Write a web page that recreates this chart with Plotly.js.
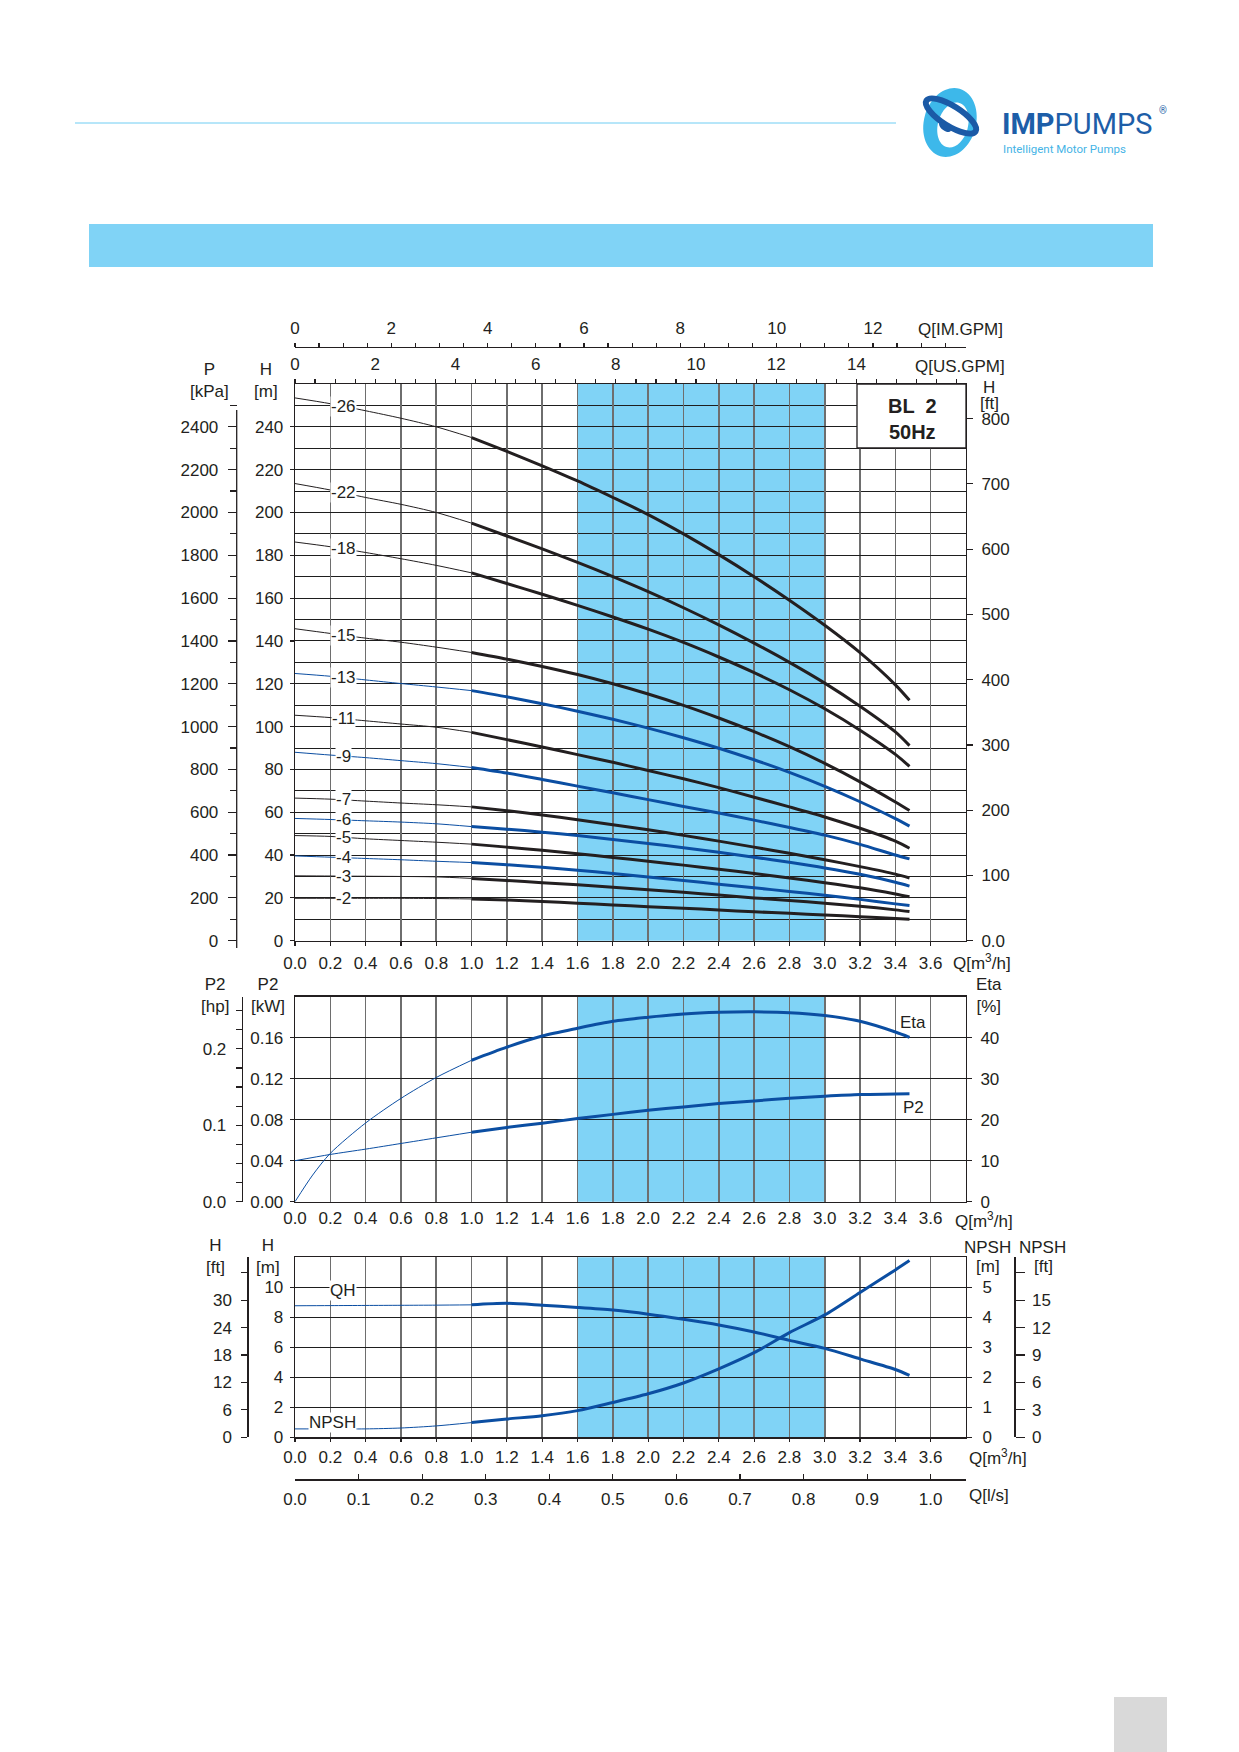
<!DOCTYPE html>
<html>
<head>
<meta charset="utf-8">
<script src="https://cdn.plot.ly/plotly-3.0.1.min.js"></script>
<style>
  html, body { margin: 0; padding: 0; background: #fff; }
  #chart { width: 1239px; height: 1752px; }
</style>
</head>
<body>
<div id="chart"></div>
<script>
// ---- data (Q in m3/h) ----
const qThin  = [0, 0.2, 0.4, 0.6, 0.8, 1.0];
const qThick = [1.0, 1.2, 1.4, 1.6, 1.8, 2.0, 2.2, 2.4, 2.6, 2.8, 3.0, 3.2, 3.4, 3.48];

// stages of the pump, top curve first
const stageNames = ['-26', '-22', '-18', '-15', '-13', '-11', '-9', '-7', '-6', '-5', '-4', '-3', '-2'];
const stageBlue  = [false, false, false, false, true, false, true, false, true, false, true, false, false];

// head H [m] on qThin
const headThin = [
  [253.5, 250.8, 247.5, 244.0, 240.0, 235.0],
  [213.5, 210.5, 207.0, 203.8, 200.0, 195.0],
  [186.2, 184.0, 181.3, 178.4, 175.3, 171.8],
  [145.7, 143.5, 141.3, 139.4, 137.1, 134.6],
  [124.8, 123.5, 121.8, 120.1, 118.5, 116.8],
  [105.3, 104.2, 102.7, 101.2, 99.7, 97.3],
  [88.0, 86.7, 85.5, 84.1, 82.7, 80.9],
  [66.6, 66.1, 65.2, 64.3, 63.5, 62.5],
  [57.1, 56.6, 56.0, 55.4, 54.6, 53.3],
  [49.1, 48.7, 47.6, 46.8, 46.0, 45.1],
  [39.6, 39.0, 38.4, 37.8, 37.1, 36.5],
  [30.3, 30.2, 30.1, 30.0, 29.8, 29.1],
  [19.8, 19.8, 19.8, 19.8, 19.7, 19.5]
];
// head H [m] on qThick
const headThick = [
  [235.0, 228.5, 221.8, 214.7, 207.0, 199.0, 190.0, 180.3, 170.0, 159.0, 147.3, 134.5, 119.5, 112.3],
  [195.0, 189.0, 183.0, 176.7, 170.0, 163.0, 155.5, 147.5, 139.0, 130.0, 120.3, 109.5, 97.5, 91.1],
  [171.8, 166.8, 161.8, 156.6, 151.2, 145.5, 139.3, 132.5, 125.2, 117.2, 108.3, 98.3, 87.0, 81.4],
  [134.6, 131.5, 128.1, 124.3, 120.0, 115.2, 109.9, 104.0, 97.6, 90.6, 82.8, 74.2, 64.8, 60.8],
  [116.8, 113.9, 110.7, 107.2, 103.4, 99.3, 94.8, 89.9, 84.5, 78.6, 72.1, 64.9, 57.0, 53.5],
  [97.3, 93.9, 90.5, 86.9, 83.3, 79.5, 75.6, 71.5, 67.0, 62.5, 57.8, 52.5, 46.5, 43.2],
  [80.9, 78.3, 75.3, 72.2, 69.1, 65.9, 62.7, 59.6, 56.3, 52.9, 49.3, 45.0, 40.0, 38.2],
  [62.5, 60.7, 58.7, 56.5, 54.2, 51.8, 49.2, 46.5, 43.7, 40.8, 37.8, 34.6, 31.1, 29.3],
  [53.3, 52.1, 50.7, 49.1, 47.3, 45.4, 43.4, 41.3, 39.0, 36.6, 34.0, 31.0, 27.3, 25.5],
  [45.1, 43.7, 42.2, 40.6, 38.9, 37.1, 35.3, 33.4, 31.4, 29.3, 27.1, 24.7, 21.8, 20.5],
  [36.5, 35.5, 34.3, 32.9, 31.4, 29.8, 28.1, 26.4, 24.7, 23.0, 21.2, 19.3, 17.2, 16.4],
  [29.1, 28.1, 27.1, 26.1, 25.0, 23.8, 22.6, 21.3, 20.0, 18.8, 17.5, 16.1, 14.4, 13.6],
  [19.5, 19.0, 18.3, 17.5, 16.7, 15.9, 15.2, 14.3, 13.5, 12.8, 12.0, 11.2, 10.4, 10.0]
];

// efficiency [%] and shaft power P2 [kW]
const qEtaThin = [0, 0.1, 0.2, 0.4, 0.6, 0.8, 1.0];
const etaThin  = [0, 6.5, 11.8, 19.2, 25.2, 30.3, 34.5];
const etaThick = [34.5, 37.7, 40.4, 42.3, 44.0, 45.0, 45.8, 46.2, 46.3, 46.1, 45.4, 44.0, 41.4, 40.1];
const p2Thin   = [0.040, 0.0461, 0.0513, 0.0568, 0.0623, 0.0678];
const p2Thick  = [0.0678, 0.0724, 0.0766, 0.0811, 0.0852, 0.0892, 0.0925, 0.0958, 0.0983, 0.1009, 0.1029, 0.1045, 0.1051, 0.1052];

// single stage QH [m] and NPSH [m]
const qhThin    = [8.77, 8.78, 8.79, 8.80, 8.81, 8.83];
const qhThick   = [8.83, 8.93, 8.81, 8.66, 8.48, 8.21, 7.87, 7.49, 7.02, 6.46, 5.93, 5.23, 4.52, 4.13];
const npshThin  = [0.28, 0.28, 0.28, 0.31, 0.38, 0.49];
const npshThick = [0.49, 0.61, 0.72, 0.89, 1.16, 1.45, 1.81, 2.28, 2.82, 3.49, 4.08, 4.83, 5.58, 5.89];

// recommended duty range
const bandRange = [1.6, 3.0];

// tick labels
const qTickVals = [0, 0.2, 0.4, 0.6, 0.8, 1.0, 1.2, 1.4, 1.6, 1.8, 2.0, 2.2, 2.4, 2.6, 2.8, 3.0, 3.2, 3.4, 3.6];
const qTickText = ['0.0','0.2','0.4','0.6','0.8','1.0','1.2','1.4','1.6','1.8','2.0','2.2','2.4','2.6','2.8','3.0','3.2','3.4','3.6'];
const usGpmTicks = [0, 2, 4, 6, 8, 10, 12, 14];
const imGpmTicks = [0, 2, 4, 6, 8, 10, 12];
const hTicks   = [0, 20, 40, 60, 80, 100, 120, 140, 160, 180, 200, 220, 240];
const kpaTicks = [0, 200, 400, 600, 800, 1000, 1200, 1400, 1600, 1800, 2000, 2200, 2400];
const ftTicks  = [0, 100, 200, 300, 400, 500, 600, 700, 800];
const ftText   = ['0.0', '100', '200', '300', '400', '500', '600', '700', '800'];
const kwTicks  = [0, 0.04, 0.08, 0.12, 0.16];
const kwText   = ['0.00', '0.04', '0.08', '0.12', '0.16'];
const etaTicks = [0, 10, 20, 30, 40];
const hpTicks  = [0, 0.1, 0.2];
const hpText   = ['0.0', '0.1', '0.2'];
const hmTicks  = [0, 2, 4, 6, 8, 10];
const npshTicks = [0, 1, 2, 3, 4, 5];
const hftTicks = [0, 6, 12, 18, 24, 30];
const nftTicks = [0, 3, 6, 9, 12, 15];
const lsTicks  = [0, 0.1, 0.2, 0.3, 0.4, 0.5, 0.6, 0.7, 0.8, 0.9, 1.0];
const lsText   = ['0.0','0.1','0.2','0.3','0.4','0.5','0.6','0.7','0.8','0.9','1.0'];

// unit conversions
const M_TO_FT = 3.28084;
const M3H_TO_USGPM = 4.40287;
const M3H_TO_IMGPM = 3.66615;
const M3H_TO_LS = 1 / 3.6;
const KW_PER_HP = 0.7457;
const Q_MAX = 3.8;

// ---- page geometry ----
const W = 1239, H = 1752;
const PX = px => px / W;
const PY = py => 1 - py / H;

const INK = '#231f20';
const BLUE = '#0b4ea2';
const BAND = '#80d3f6';
const GRIDV = '#6e6e6e';
const GRIDH = '#1e1e1e';
const FONT = { family: 'Liberation Sans, Arial, sans-serif', size: 17, color: INK };

function steps(a, b, s, skip) {
  const out = [];
  for (let v = a; v <= b + 1e-9; v += s) {
    const r = Math.round(v * 1000) / 1000;
    if (!skip || !skip.some(k => Math.abs(k - r) < 1e-9)) out.push(r);
  }
  return out;
}

function interp(xs, ys, x) {
  for (let i = 0; i < xs.length - 1; i++) {
    if (x >= xs[i] && x <= xs[i + 1]) {
      const t = (x - xs[i]) / (xs[i + 1] - xs[i]);
      return ys[i] + t * (ys[i + 1] - ys[i]);
    }
  }
  return ys[ys.length - 1];
}

// ---- traces ----
let traces = [];
function addCurve(xThin, yThin, xThick, yThick, color, xa, ya) {
  traces.push({ x: xThin, y: yThin, xaxis: xa, yaxis: ya, mode: 'lines', hoverinfo: 'skip',
    line: { color: color, width: 1, shape: 'spline', smoothing: 0.8 } });
  traces.push({ x: xThick, y: yThick, xaxis: xa, yaxis: ya, mode: 'lines', hoverinfo: 'skip',
    line: { color: color, width: 3, shape: 'spline', smoothing: 0.8 } });
}

stageNames.forEach((name, i) => {
  addCurve(qThin, headThin[i], qThick, headThick[i], stageBlue[i] ? BLUE : INK, 'x', 'y');
});
addCurve(qEtaThin, etaThin, qThick, etaThick, BLUE, 'x4', 'y5');
addCurve(qThin, p2Thin, qThick, p2Thick, BLUE, 'x4', 'y4');
addCurve(qThin, qhThin, qThick, qhThick, BLUE, 'x5', 'y7');
addCurve(qThin, npshThin, qThick, npshThick, BLUE, 'x5', 'y8');

// empty traces so that the unit-conversion axes get drawn
[['x', 'y2'], ['x', 'y3'], ['x2', 'y'], ['x3', 'y'], ['x4', 'y6'], ['x5', 'y9'], ['x5', 'y10'], ['x6', 'y7']].forEach(([xa, ya]) => {
  traces.push({ x: [null], y: [null], xaxis: xa, yaxis: ya, mode: 'markers', hoverinfo: 'skip', marker: { opacity: 0 } });
});

// ---- axes ----
const XDOM = [PX(295), PX(966)];
const baseTick = { tickfont: FONT, tickcolor: INK, zeroline: false, showgrid: false, tickwidth: 1.2 };

function qAxis(anchor, tlen, standoff) {
  return Object.assign({}, baseTick, {
    domain: XDOM, anchor: anchor, range: [0, Q_MAX],
    tickmode: 'array', tickvals: qTickVals, ticktext: qTickText,
    ticks: tlen ? 'outside' : '', ticklen: tlen, ticklabelstandoff: standoff,
    showgrid: true, gridcolor: GRIDV, gridwidth: 1.6,
    showline: true, mirror: true, linecolor: INK, linewidth: 1.3
  });
}
function mainY(dom, anchor, range, vals, text) {
  return Object.assign({}, baseTick, {
    domain: dom, anchor: anchor, range: range,
    tickmode: 'array', tickvals: vals, ticktext: text || vals.map(String),
    ticks: 'outside', ticklen: 4, ticklabelstandoff: 3,
    showgrid: true, gridcolor: GRIDH, gridwidth: 1,
    showline: true, mirror: true, linecolor: INK, linewidth: 1.3
  });
}
function sideY(over, extra) {
  return Object.assign({}, baseTick, { overlaying: over, tickmode: 'array', ticks: 'outside' }, extra);
}

const layout = {
  width: W, height: H,
  margin: { l: 0, r: 0, t: 0, b: 0, pad: 0 },
  paper_bgcolor: '#ffffff', plot_bgcolor: 'rgba(0,0,0,0)',
  showlegend: false, font: FONT,

  // top panel
  xaxis: qAxis('y', 4, 3),
  yaxis: Object.assign(mainY([PY(940.7), PY(384)], 'x', [0, 260], hTicks), {
    minor: { tickmode: 'array', tickvals: steps(10, 250, 20), showgrid: true, gridcolor: GRIDH, gridwidth: 1, ticks: '' }
  }),
  yaxis2: sideY('y', { anchor: 'free', position: PX(236.7), side: 'left', range: [0, 2600],
    tickvals: kpaTicks, ticktext: kpaTicks.map(String), ticklen: 9, ticklabelstandoff: 6,
    minor: { tickmode: 'array', tickvals: steps(100, 2500, 200), ticks: 'outside', ticklen: 7, tickcolor: INK } }),
  yaxis3: sideY('y', { anchor: 'x', side: 'right', range: [0, 260 * M_TO_FT],
    tickvals: ftTicks, ticktext: ftText, ticklen: 6, ticklabelstandoff: 5 }),
  xaxis2: Object.assign({}, baseTick, { overlaying: 'x', anchor: 'y', side: 'top', range: [0, Q_MAX * M3H_TO_USGPM],
    tickmode: 'array', tickvals: usGpmTicks, ticktext: usGpmTicks.map(String), ticks: 'outside', ticklen: 4, ticklabelstandoff: 2,
    minor: { tickmode: 'array', tickvals: steps(0.5, 16.5, 0.5, usGpmTicks), ticks: 'outside', ticklen: 4, tickcolor: INK } }),
  xaxis3: Object.assign({}, baseTick, { overlaying: 'x', anchor: 'free', position: PY(346.7), side: 'top', range: [0, Q_MAX * M3H_TO_IMGPM],
    showline: true, linecolor: INK, linewidth: 1.3,
    tickmode: 'array', tickvals: imGpmTicks, ticktext: imGpmTicks.map(String), ticks: 'outside', ticklen: 4, ticklabelstandoff: 2,
    minor: { tickmode: 'array', tickvals: steps(0.5, 13.5, 0.5, imGpmTicks), ticks: 'outside', ticklen: 4, tickcolor: INK } }),

  // middle panel
  xaxis4: qAxis('y4', 0, 1),
  yaxis4: mainY([PY(1201.7), PY(996.7)], 'x4', [0, 0.2], kwTicks, kwText),
  yaxis5: sideY('y4', { anchor: 'x4', side: 'right', range: [0, 50],
    tickvals: etaTicks, ticktext: etaTicks.map(String), ticklen: 5, ticklabelstandoff: 5 }),
  yaxis6: sideY('y4', { anchor: 'free', position: PX(241.7), side: 'left', range: [0, 0.2 / KW_PER_HP],
    showline: true, linecolor: INK, linewidth: 1.3,
    tickvals: hpTicks, ticktext: hpText, ticklen: 6, ticklabelstandoff: 6,
    minor: { tickmode: 'array', tickvals: steps(0.025, 0.25, 0.025, hpTicks), ticks: 'outside', ticklen: 6, tickcolor: INK } }),

  // bottom panel
  xaxis5: qAxis('y7', 3, 1),
  yaxis7: mainY([PY(1437.3), PY(1257.3)], 'x5', [0, 12], hmTicks),
  yaxis8: sideY('y7', { anchor: 'x5', side: 'right', range: [0, 6],
    tickvals: npshTicks, ticktext: npshTicks.map(String), ticklen: 5, ticklabelstandoff: 7 }),
  yaxis9: sideY('y7', { anchor: 'free', position: PX(247.3), side: 'left', range: [0, 12 * M_TO_FT],
    showline: true, linecolor: INK, linewidth: 1.3,
    tickvals: hftTicks, ticktext: hftTicks.map(String), ticklen: 6, ticklabelstandoff: 6,
    minor: { tickmode: 'array', tickvals: [36], ticks: 'outside', ticklen: 6, tickcolor: INK } }),
  yaxis10: sideY('y7', { anchor: 'free', position: PX(1014.3), side: 'right', range: [0, 6 * M_TO_FT],
    showline: true, linecolor: INK, linewidth: 1.3,
    tickvals: nftTicks, ticktext: nftTicks.map(String), ticklen: 9, ticklabelstandoff: 4,
    minor: { tickmode: 'array', tickvals: [18], ticks: 'outside', ticklen: 9, tickcolor: INK } }),
  xaxis6: Object.assign({}, baseTick, { overlaying: 'x5', anchor: 'free', position: PY(1479.3), side: 'bottom',
    range: [0, Q_MAX * M3H_TO_LS], showline: true, linecolor: INK, linewidth: 1.3,
    tickmode: 'array', tickvals: lsTicks, ticktext: lsText, ticks: 'inside', ticklen: 5, ticklabelstandoff: 4 }),

  shapes: [],
  annotations: []
};

// duty range bands
[['x', 'y domain'], ['x4', 'y4 domain'], ['x5', 'y7 domain']].forEach(([xr, yr]) => {
  layout.shapes.push({ type: 'rect', xref: xr, yref: yr, x0: bandRange[0], x1: bandRange[1], y0: 0, y1: 1,
    fillcolor: BAND, line: { width: 0 }, layer: 'below' });
});

// model box
layout.shapes.push({ type: 'rect', xref: 'x domain', yref: 'y domain', x0: (857 - 295) / 671, x1: 1, y0: 1 - 64 / 556.7, y1: 1,
  fillcolor: '#ffffff', line: { color: INK, width: 1.3 }, layer: 'above' });
layout.annotations.push({ xref: 'paper', yref: 'paper', x: PX(912), y: PY(419), xanchor: 'center', yanchor: 'middle',
  text: '<b>BL  2</b><br><b>50Hz</b>', showarrow: false, font: Object.assign({}, FONT, { size: 20 }) });

// kPa axis line (starts at the 2500 tick)
layout.shapes.push({ type: 'line', xref: 'paper', yref: 'paper', x0: PX(236.7), x1: PX(236.7), y0: PY(948), y1: PY(410),
  line: { color: INK, width: 1.3 } });

// stage labels sit on a white patch that breaks the thin curve
stageNames.forEach((name, i) => {
  layout.annotations.push({ xref: 'x', yref: 'y', x: 0.275, y: interp(qThin, headThin[i], 0.275),
    text: name, showarrow: false, bgcolor: '#ffffff', borderpad: 0, font: FONT, xanchor: 'center', yanchor: 'middle' });
});

// axis names and curve names
function note(text, px, py, opt) {
  layout.annotations.push(Object.assign({ xref: 'paper', yref: 'paper', x: PX(px), y: PY(py), text: text,
    showarrow: false, font: FONT, xanchor: 'center', yanchor: 'middle' }, opt || {}));
}
note('P<br>[kPa]', 209, 380);
note('H<br>[m]', 266, 380);
note('Q[IM.GPM]', 960, 330);
note('Q[US.GPM]', 960, 366);
note('H', 989, 388);
note('[ft]', 989, 404);
note('Q[m<sup>3</sup>/h]', 982, 962);

note('P2<br>[hp]', 215, 995);
note('P2<br>[kW]', 268, 995);
note('Eta<br>[%]', 989, 995);
note('Eta', 913, 1022);
note('P2', 913, 1107);
note('Q[m<sup>3</sup>/h]', 984, 1220);

note('H<br>[ft]', 215, 1256);
note('H<br>[m]', 268, 1256);
note('NPSH', 987, 1247);
note('[m]', 988, 1266);
note('NPSH', 1043, 1247, { xanchor: 'left', x: PX(1017) });
note('[ft]', 1043, 1266);
note('QH', 343, 1290, { bgcolor: '#ffffff', borderpad: 0 });
note('NPSH', 333, 1422, { bgcolor: '#ffffff', borderpad: 0 });
note('Q[m<sup>3</sup>/h]', 998, 1457);
note('Q[l/s]', 989, 1495);

// ---- page decoration ----
layout.shapes.push({ type: 'line', xref: 'paper', yref: 'paper', x0: PX(75), x1: PX(896), y0: PY(123), y1: PY(123),
  line: { color: '#6fcdf3', width: 1 } });
layout.shapes.push({ type: 'rect', xref: 'paper', yref: 'paper', x0: PX(89), x1: PX(1153), y0: PY(267), y1: PY(224),
  fillcolor: BAND, line: { width: 0 } });
layout.shapes.push({ type: 'rect', xref: 'paper', yref: 'paper', x0: PX(1114), x1: PX(1167), y0: PY(1752), y1: PY(1697),
  fillcolor: '#d9d9d9', line: { width: 0 } });

// logo mark from ellipses drawn as cubic curves
function ellipsePath(cx, cy, rx, ry, deg) {
  const k = 0.5523, a = deg * Math.PI / 180, c = Math.cos(a), s = Math.sin(a);
  const p = (x, y) => PX(cx + x * c - y * s).toFixed(5) + ',' + PY(cy + x * s + y * c).toFixed(5);
  return 'M' + p(rx, 0) +
    ' C' + p(rx, k * ry) + ' ' + p(k * rx, ry) + ' ' + p(0, ry) +
    ' C' + p(-k * rx, ry) + ' ' + p(-rx, k * ry) + ' ' + p(-rx, 0) +
    ' C' + p(-rx, -k * ry) + ' ' + p(-k * rx, -ry) + ' ' + p(0, -ry) +
    ' C' + p(k * rx, -ry) + ' ' + p(rx, -k * ry) + ' ' + p(rx, 0) + ' Z';
}
layout.shapes.push({ type: 'path', xref: 'paper', yref: 'paper', path: ellipsePath(950, 122.5, 26, 35, 16),
  fillcolor: '#3db8ea', line: { width: 0 } });
layout.shapes.push({ type: 'path', xref: 'paper', yref: 'paper', path: ellipsePath(953, 125, 15, 23, 16),
  fillcolor: '#ffffff', line: { width: 0 } });
layout.shapes.push({ type: 'path', xref: 'paper', yref: 'paper', path: ellipsePath(951, 116, 29, 10, 32),
  fillcolor: 'rgba(0,0,0,0)', line: { color: '#1b5aa6', width: 6 } });
layout.shapes.push({ type: 'path', xref: 'paper', yref: 'paper', path: ellipsePath(945, 127, 7, 3.5, 38),
  fillcolor: '#1b5aa6', line: { width: 0 } });

const LOGO = { family: 'Roboto, Liberation Sans, sans-serif', color: '#1d5ea8' };
note('<b>IMP</b>PUMPS', 1000, 124, { xanchor: 'left', font: Object.assign({}, LOGO, { size: 29 }) });
note('®', 1163, 111, { font: Object.assign({}, LOGO, { size: 10 }) });
note('Intelligent Motor Pumps', 1001, 149, { xanchor: 'left', font: { family: 'Roboto, Liberation Sans, sans-serif', size: 11.5, color: '#45b4e6' } });

Plotly.newPlot('chart', traces, layout, { staticPlot: true, displayModeBar: false });
</script>
</body>
</html>
